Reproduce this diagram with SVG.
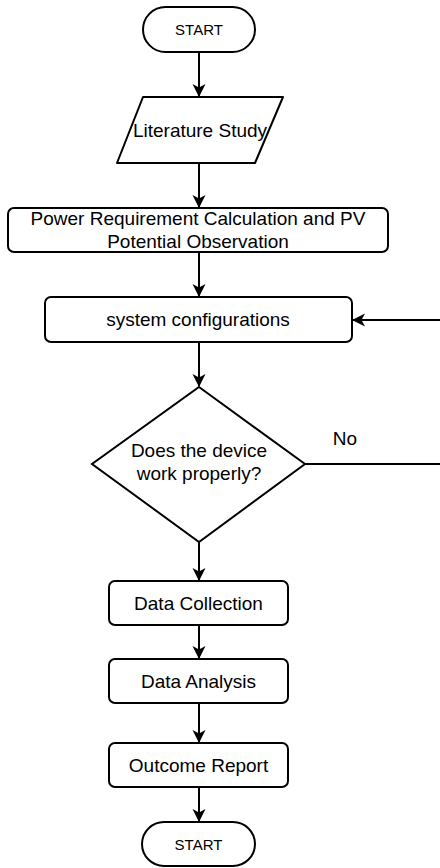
<svg xmlns="http://www.w3.org/2000/svg" width="440" height="868" viewBox="0 0 440 868">
<defs>
<style>
.n{fill:#fff;stroke:#000;stroke-width:2}
.t{font-family:"Liberation Sans",Arial,sans-serif;font-size:19px;fill:#000;text-anchor:middle;dominant-baseline:central}
.s{font-size:15px}
.c{fill:none;stroke:#000;stroke-width:2}
</style>
<marker id="ah" viewBox="0 0 13 14" refX="12" refY="7" markerWidth="13" markerHeight="14" markerUnits="userSpaceOnUse" orient="auto">
<path d="M0,0.5 L13,7 L0,13.5 L3.5,7 z" fill="#000"/>
</marker>
</defs>
<rect width="440" height="868" fill="#fff"/>
<g id="connectors">
<path class="c" d="M199,52 V96" marker-end="url(#ah)"/>
<path class="c" d="M199,163 V207" marker-end="url(#ah)"/>
<path class="c" d="M199,252 V296" marker-end="url(#ah)"/>
<path class="c" d="M199,342 V386" marker-end="url(#ah)"/>
<path class="c" d="M199,542 V580" marker-end="url(#ah)"/>
<path class="c" d="M199,625 V658" marker-end="url(#ah)"/>
<path class="c" d="M199,703 V742" marker-end="url(#ah)"/>
<path class="c" d="M199,787 V821" marker-end="url(#ah)"/>
<path class="c" d="M305,464 H440"/>
<path class="c" d="M440,320 H353" marker-end="url(#ah)"/>
<text class="t" x="345" y="438">No</text>
</g>
<g id="start">
<rect class="n" x="143" y="7" width="112" height="45" rx="22.5"/>
<text class="t s" x="199" y="29.5">START</text>
</g>
<g id="literature">
<path class="n" d="M143,97 H283 L255,163 H117 Z" stroke-linejoin="round"/>
<text class="t" x="200" y="130">Literature Study</text>
</g>
<g id="power">
<rect class="n" x="8" y="208" width="380" height="44" rx="6"/>
<text class="t" x="198" y="218">Power Requirement Calculation and PV</text>
<text class="t" x="198" y="241">Potential Observation</text>
</g>
<g id="config">
<rect class="n" x="45" y="297" width="307" height="45" rx="6"/>
<text class="t" x="198" y="319.5">system configurations</text>
</g>
<g id="decision">
<path class="n" d="M199,387 L305,464 L199,542 L92,464 Z"/>
<text class="t" x="199" y="450">Does the device</text>
<text class="t" x="199" y="473">work properly?</text>
</g>
<g id="collection">
<rect class="n" x="109" y="581" width="179" height="44" rx="6"/>
<text class="t" x="198.5" y="603">Data Collection</text>
</g>
<g id="analysis">
<rect class="n" x="109" y="659" width="179" height="44" rx="6"/>
<text class="t" x="198.5" y="681">Data Analysis</text>
</g>
<g id="report">
<rect class="n" x="109" y="743" width="179" height="44" rx="6"/>
<text class="t" x="198.5" y="765">Outcome Report</text>
</g>
<g id="end">
<rect class="n" x="142" y="822" width="113" height="44" rx="22"/>
<text class="t s" x="198.5" y="844">START</text>
</g>
</svg>
